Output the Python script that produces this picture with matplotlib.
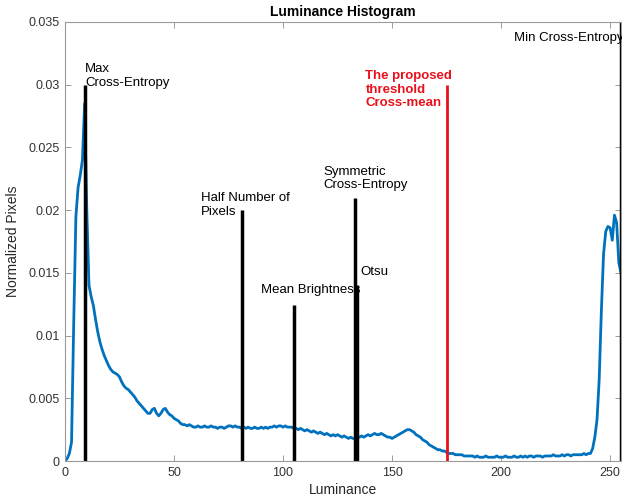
#!/usr/bin/env python3
import matplotlib
matplotlib.use("Agg")
import matplotlib.pyplot as plt
import numpy as np

plt.rcParams["font.family"] = ["Liberation Sans", "DejaVu Sans"]

# -------------------------------------------------------
# Data: normalized luminance histogram (bins 0..255)
# -------------------------------------------------------
hist_vals = [
    0.0000, 0.0002, 0.0006, 0.0015, 0.0110, 0.0195, 0.0218, 0.0228, 0.0240, 0.0285,
    0.0200, 0.0140, 0.0131, 0.0124, 0.0113, 0.0103, 0.0095, 0.0089, 0.0084, 0.0080,
    0.0076, 0.0073, 0.0071, 0.0070, 0.0069, 0.0067, 0.0063, 0.0060, 0.0058, 0.0057,
    0.0055, 0.0053, 0.0051, 0.0048, 0.0046, 0.0044, 0.0042, 0.0040, 0.0038, 0.0038,
    0.0041, 0.0042, 0.0038, 0.0036, 0.0038, 0.0041, 0.0042, 0.0039, 0.0037, 0.0036,
    0.0034, 0.0033, 0.0032, 0.0030, 0.0029, 0.0029, 0.0028, 0.0029, 0.0028, 0.0027,
    0.0027,
    0.0028, 0.0027, 0.0027, 0.0028, 0.0027, 0.0027, 0.0028, 0.0027, 0.0027, 0.0026,
    0.0027, 0.0027, 0.0026, 0.0027, 0.0028, 0.0028, 0.0027, 0.0028, 0.0027, 0.0027,
    0.0026, 0.0027, 0.0026, 0.0027, 0.0026, 0.0026, 0.0027, 0.0026, 0.0026, 0.0027,
    0.0026, 0.0027, 0.0026, 0.0027, 0.0027, 0.0028, 0.0027, 0.0028, 0.0028, 0.0027,
    0.0028, 0.0027, 0.0027, 0.0027, 0.0026, 0.0026, 0.0025, 0.0026, 0.0025, 0.0024,
    0.0025, 0.0024, 0.0023, 0.0024, 0.0023, 0.0022, 0.0023, 0.0022, 0.0021, 0.0022,
    0.0021, 0.0020, 0.0021, 0.0020, 0.0021, 0.0020, 0.0019, 0.0020, 0.0019, 0.0018,
    0.0019, 0.0018, 0.0018, 0.0019, 0.0019, 0.0020, 0.0019, 0.0020, 0.0021, 0.0020,
    0.0021, 0.0022, 0.0021, 0.0021, 0.0022, 0.0021, 0.0020, 0.0019, 0.0019, 0.0018,
    0.0019, 0.0020, 0.0021, 0.0022, 0.0023, 0.0024, 0.0025, 0.0025, 0.0024, 0.0023,
    0.0021, 0.0020, 0.0019, 0.0017, 0.0016, 0.0015, 0.0013, 0.0012, 0.0011, 0.0010,
    0.0009, 0.0009, 0.0008, 0.0008, 0.0007, 0.0006, 0.0006, 0.0006, 0.0005, 0.0005,
    0.0005, 0.0005, 0.0004, 0.0004, 0.0004, 0.0004, 0.0004, 0.0003, 0.0004, 0.0003,
    0.0003, 0.0003, 0.0004, 0.0003, 0.0003, 0.0003, 0.0003, 0.0004, 0.0003, 0.0003,
    0.0003, 0.0004, 0.0003, 0.0003, 0.0003, 0.0004, 0.0003, 0.0003, 0.0004, 0.0003,
    0.0004, 0.0003, 0.0004, 0.0004, 0.0003, 0.0004, 0.0004, 0.0004, 0.0003, 0.0004,
    0.0004, 0.0004, 0.0004, 0.0005, 0.0004, 0.0004, 0.0004, 0.0005, 0.0004, 0.0005,
    0.0005, 0.0004, 0.0005, 0.0005, 0.0005, 0.0005, 0.0005, 0.0006, 0.0005, 0.0006,
    0.0006, 0.0010, 0.0019, 0.0033, 0.0065, 0.0120, 0.0165, 0.0183, 0.0187, 0.0186,
    0.0176, 0.0196, 0.0190, 0.0158, 0.0150,
]
luminance = np.arange(len(hist_vals))

# threshold markers: name, position, line height
thr_names = ["Max\nCross-Entropy", "Half Number of\nPixels", "Mean Brightness",
             "Symmetric\nCross-Entropy", "Otsu", "Min Cross-Entropy"]
thr_pos = [9, 81, 105, 133, 134, 255]
thr_height = [0.030, 0.020, 0.0124, 0.021, 0.014, 0.035]

# label anchor points (data coords)
lbl_x = [9.3, 62.3, 89.8, 118.3, 135.6, 205.8]
lbl_y = [0.0307, 0.0204, 0.01365, 0.0225, 0.0151, 0.0337]

prop_name = "The proposed\nthreshold\nCross-mean"
prop_pos = 175
prop_height = 0.030
prop_lbl = (137.8, 0.0296)

xticks = [0, 50, 100, 150, 200, 250]
yticks = [0, 0.005, 0.01, 0.015, 0.02, 0.025, 0.03, 0.035]
ytick_labels = ["0", "0.005", "0.01", "0.015", "0.02", "0.025", "0.03", "0.035"]

# -------------------------------------------------------
# Plot
# -------------------------------------------------------
fig = plt.figure(figsize=(6.22, 5.03), dpi=100)
ax = fig.add_axes([65 / 622, 1 - 461 / 503, 556 / 622, 439 / 503])

ax.plot(luminance, hist_vals, color="#0072BD", lw=2)

for p, h in zip(thr_pos, thr_height):
    ax.plot([p, p], [0, h], color="black", lw=2.5, solid_capstyle="butt")
ax.plot([prop_pos, prop_pos], [0, prop_height], color="#e8111b", lw=2,
        solid_capstyle="butt")

for name, x, y in zip(thr_names, lbl_x, lbl_y):
    ax.text(x, y, name, fontsize=9.5, ha="left", va="center",
            linespacing=1.15, color="black", clip_on=False)
ax.text(prop_lbl[0], prop_lbl[1], prop_name, fontsize=9.5, fontweight="bold",
        color="#e8111b", ha="left", va="center", linespacing=1.15)

ax.set_xlim(0, 255)
ax.set_ylim(0, 0.035)
ax.set_xticks(xticks)
ax.set_yticks(yticks)
ax.set_yticklabels(ytick_labels)
ax.tick_params(direction="in", top=True, right=True, length=4, width=0.6,
               labelsize=9, colors="#8c8c8c", labelcolor="#333333", pad=4)
for s in ax.spines.values():
    s.set_color("#9a9a9a")
    s.set_linewidth(0.8)

ax.set_xlabel("Luminance", fontsize=10, color="#262626", labelpad=3)
ax.set_ylabel("Normalized Pixels", fontsize=10, color="#262626", labelpad=6)
ax.set_title("Luminance Histogram", fontsize=10, fontweight="bold", pad=4)

fig.savefig("out.png", dpi=100)
